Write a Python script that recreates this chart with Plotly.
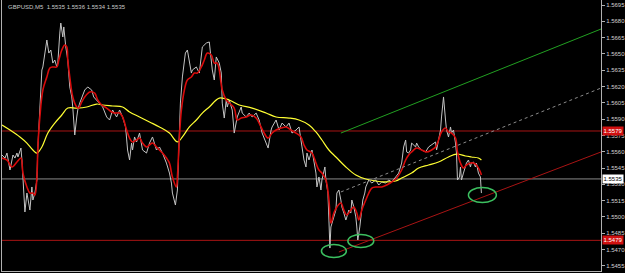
import plotly.graph_objects as go

# ---------------- data (bar index, price) ----------------
close_bar = [2,5,7,10,12,13,15,17,18,21,22,23,25,27,28,30,32,33,35,37,38,40,42,43,45,46,47,49,51,53,55,57,58,60,61,63,64,66,68,70,72,73,75,77,78,80,82,85,88,92,94,97,100,103,107,110,113,117,120,123,126,128,130,132,133,135,137,140,143,147,150,153,157,160,163,167,170,172,173,176,178,179,181,183,184,186,188,190,192,193,197,200,203,207,210,213,215,217,220,222,223,225,227,228,230,233,235,238,242,243,247,250,253,257,260,263,267,269,272,273,277,280,283,287,290,293,297,300,303,305,307,308,310,313,317,318,320,322,323,326,327,329,330,331,332,335,337,338,340,342,343,345,347,348,350,352,353,355,357,358,359,361,363,364,366,367,370,373,377,380,383,387,390,393,397,400,403,405,407,408,410,412,413,417,418,420,423,427,430,433,437,438,440,442,443,445,447,448,450,452,453,455,457,458,459,461,462,463,465,467,468,470,472,473,475,477,478,480,482,483]
close_px = [1.55570,1.55542,1.55588,1.55432,1.55524,1.55570,1.55542,1.55588,1.55552,1.55634,1.55524,1.55312,1.55046,1.55220,1.55156,1.55064,1.55276,1.55156,1.55220,1.55340,1.55644,1.56048,1.56352,1.56380,1.56508,1.56600,1.56628,1.56508,1.56536,1.56416,1.56444,1.56380,1.56416,1.56692,1.56784,1.56656,1.56748,1.56564,1.56444,1.56196,1.56104,1.56012,1.55754,1.55920,1.55984,1.56048,1.56104,1.56168,1.56196,1.56168,1.56104,1.56076,1.56048,1.56012,1.55920,1.55892,1.55984,1.55920,1.55984,1.55920,1.55828,1.55616,1.55524,1.55680,1.55616,1.55736,1.55690,1.55772,1.55616,1.55588,1.55680,1.55736,1.55616,1.55644,1.55588,1.55496,1.55404,1.55312,1.55220,1.55110,1.55248,1.55588,1.56048,1.56288,1.56352,1.56508,1.56536,1.56416,1.56324,1.56352,1.56380,1.56324,1.56564,1.56600,1.56610,1.56352,1.56260,1.56472,1.56416,1.56324,1.56048,1.55910,1.56076,1.56012,1.56076,1.55984,1.55772,1.55920,1.56012,1.55956,1.55920,1.55956,1.55920,1.55956,1.55892,1.55772,1.55680,1.55634,1.55800,1.55828,1.55892,1.55800,1.55864,1.55828,1.55864,1.55772,1.55800,1.55828,1.55644,1.55524,1.55460,1.55588,1.55524,1.55616,1.55404,1.55276,1.55368,1.55248,1.55340,1.55460,1.55340,1.55220,1.54972,1.54714,1.54908,1.55000,1.55064,1.55220,1.55248,1.55156,1.55092,1.55036,1.54972,1.55000,1.55064,1.55036,1.55156,1.55092,1.55000,1.54908,1.54788,1.54908,1.55064,1.55156,1.55220,1.55276,1.55340,1.55312,1.55340,1.55294,1.55322,1.55312,1.55340,1.55322,1.55368,1.55404,1.55496,1.55644,1.55708,1.55598,1.55588,1.55616,1.55680,1.55644,1.55680,1.55644,1.55616,1.55598,1.55644,1.55662,1.55690,1.55616,1.55708,1.55800,1.55920,1.56104,1.55892,1.55800,1.55736,1.55828,1.55772,1.55800,1.55680,1.55588,1.55340,1.55368,1.55460,1.55340,1.55404,1.55460,1.55496,1.55524,1.55460,1.55496,1.55506,1.55460,1.55496,1.55404,1.55368,1.55220]

fast_bar = [2,7,12,17,21,23,27,30,33,35,37,38,40,43,47,50,53,57,59,62,65,67,68,70,73,77,79,82,85,90,95,98,102,107,112,115,120,123,127,130,133,137,140,143,147,150,153,157,160,163,167,170,173,177,178,180,182,185,188,192,195,198,202,205,208,212,215,218,220,223,227,230,235,238,242,247,252,257,260,265,269,273,277,282,287,292,297,302,305,308,313,317,320,323,327,330,332,335,338,342,345,348,352,355,358,360,363,367,370,373,378,383,388,393,398,403,407,410,413,418,423,428,433,437,440,443,447,450,453,457,459,462,465,468,472,475,478,482,483]
fast_ma = [1.55542,1.55524,1.55460,1.55506,1.55542,1.55404,1.55276,1.55220,1.55220,1.55202,1.55368,1.55644,1.55920,1.56168,1.56288,1.56370,1.56380,1.56380,1.56444,1.56536,1.56582,1.56564,1.56444,1.56288,1.56104,1.56012,1.56002,1.56058,1.56104,1.56150,1.56140,1.56076,1.56030,1.56002,1.55966,1.55956,1.55956,1.55920,1.55800,1.55726,1.55690,1.55708,1.55726,1.55680,1.55644,1.55662,1.55680,1.55644,1.55616,1.55588,1.55542,1.55496,1.55368,1.55276,1.55368,1.55736,1.55984,1.56168,1.56260,1.56288,1.56324,1.56324,1.56380,1.56444,1.56508,1.56490,1.56416,1.56416,1.56352,1.56168,1.56076,1.56048,1.56002,1.55892,1.55910,1.55920,1.55938,1.55910,1.55864,1.55772,1.55726,1.55772,1.55800,1.55818,1.55828,1.55800,1.55772,1.55736,1.55662,1.55616,1.55588,1.55496,1.55432,1.55404,1.55340,1.55156,1.54944,1.55036,1.55092,1.55128,1.55064,1.55018,1.55064,1.55092,1.55036,1.54972,1.55064,1.55156,1.55220,1.55266,1.55276,1.55276,1.55294,1.55322,1.55358,1.55432,1.55524,1.55570,1.55598,1.55634,1.55616,1.55598,1.55616,1.55644,1.55708,1.55782,1.55818,1.55782,1.55772,1.55726,1.55598,1.55496,1.55450,1.55478,1.55496,1.55496,1.55478,1.55414,1.55386]

slow_bar = [2,10,20,27,33,37,42,48,55,62,68,77,87,97,103,113,123,130,140,150,160,170,178,183,190,197,203,210,220,230,240,253,267,277,290,300,310,317,323,330,337,347,357,367,377,387,397,403,413,420,430,440,450,458,467,473,480,483]
slow_ma = [1.55846,1.55800,1.55736,1.55680,1.55616,1.55588,1.55644,1.55772,1.55864,1.55938,1.56002,1.56002,1.56012,1.56039,1.56030,1.56021,1.56012,1.55966,1.55920,1.55874,1.55828,1.55772,1.55690,1.55736,1.55828,1.55892,1.55956,1.56012,1.56094,1.56076,1.56030,1.56002,1.55956,1.55920,1.55910,1.55892,1.55846,1.55782,1.55708,1.55616,1.55552,1.55460,1.55386,1.55349,1.55331,1.55322,1.55331,1.55358,1.55404,1.55450,1.55478,1.55506,1.55552,1.55579,1.55561,1.55552,1.55542,1.55524]

# horizontal levels
resist_level = 1.55791
support_level = 1.54785
bid_level = 1.5535

# channel trendlines (bar, price) endpoints
green_bars = [342, 603]
green_prices = [1.55772, 1.56729]
mid_bars = [342, 603]
mid_prices = [1.55230, 1.56186]
red_bars = [340, 603]
red_prices = [1.54678, 1.55598]

# circled lows (bar, price)
circle_bars = [335, 362, 484]
circle_prices = [1.54687, 1.54779, 1.55202]

tick_vals = [1.5455,1.5470,1.5485,1.5500,1.5515,1.5530,1.5545,1.5560,1.5575,1.5590,1.5605,1.5620,1.5635,1.5650,1.5665,1.5680,1.5695]
tick_text = ["1.5455","1.5470","1.5485","1.5500","1.5515","1.5530","1.5545","1.5560","1.5575","1.5590","1.5605","1.5620","1.5635","1.5650","1.5665","1.5680","1.5695"]

title_text = "GBPUSD,M5  1.5535 1.5536 1.5534 1.5535"
resist_label = "1.5579"
support_label = "1.5479"
bid_label = "1.5535"

# ---------------- figure ----------------
FONT = "Liberation Sans"
fig = go.Figure()

fig.add_trace(go.Scatter(x=close_bar, y=close_px, mode="lines",
                         line=dict(color="#c4c4c4", width=1), hoverinfo="skip"))
fig.add_trace(go.Scatter(x=slow_bar, y=slow_ma, mode="lines",
                         line=dict(color="#ffff33", width=1.2, shape="spline"), hoverinfo="skip"))
fig.add_trace(go.Scatter(x=fast_bar, y=fast_ma, mode="lines",
                         line=dict(color="#d80c0c", width=1.6, shape="spline"), hoverinfo="skip"))

fig.add_trace(go.Scatter(x=green_bars, y=green_prices, mode="lines",
                         line=dict(color="#22a022", width=1), hoverinfo="skip"))
fig.add_trace(go.Scatter(x=mid_bars, y=mid_prices, mode="lines",
                         line=dict(color="#8c8c8c", width=1, dash="dot"), hoverinfo="skip"))
fig.add_trace(go.Scatter(x=red_bars, y=red_prices, mode="lines",
                         line=dict(color="#a81414", width=1), hoverinfo="skip"))

shapes = []
for lvl, col in [(resist_level, "#a81414"), (support_level, "#a81414"), (bid_level, "#8a8a8a")]:
    shapes.append(dict(type="line", xref="paper", x0=0, x1=1, yref="y", y0=lvl, y1=lvl,
                       line=dict(color=col, width=1), layer="below"))

half_w = [12.5, 13, 14]
half_h = [0.00060, 0.00060, 0.00069]
for b, p, hw, hh in zip(circle_bars, circle_prices, half_w, half_h):
    shapes.append(dict(type="circle", xref="x", yref="y", x0=b - hw, x1=b + hw,
                       y0=p - hh, y1=p + hh, line=dict(color="#3cc060", width=1.5)))

annotations = [
    dict(xref="paper", yref="paper", x=0, y=1, xanchor="left", yanchor="top",
         text=title_text, showarrow=False, xshift=4, yshift=-2,
         font=dict(family=FONT, size=6, color="#c8c8c8")),
]
for lvl, txt, bg, fg in [(resist_level, resist_label, "#d01010", "#ffffff"),
                         (support_level, support_label, "#d01010", "#ffffff"),
                         (bid_level, bid_label, "#ffffff", "#000000")]:
    annotations.append(dict(xref="paper", yref="y", x=1, y=lvl, xanchor="left", yanchor="middle",
                            text=txt, showarrow=False, bgcolor=bg, borderpad=0, width=20, height=8,
                            xshift=1, font=dict(family=FONT, size=6, color=fg)))

fig.update_layout(
    width=625, height=273,
    margin=dict(l=2, r=22, t=0, b=2),
    paper_bgcolor="#000000", plot_bgcolor="#000000",
    showlegend=False,
    shapes=shapes, annotations=annotations,
    xaxis=dict(range=[2, 603], showgrid=False, zeroline=False, showticklabels=False,
               showline=True, linecolor="#b0b0b0", linewidth=1, ticks=""),
    yaxis=dict(range=[1.54503, 1.56996], side="right", showgrid=False, zeroline=False,
               tickvals=tick_vals, ticktext=tick_text, ticks="outside", ticklen=3,
               tickcolor="#b0b0b0", showline=True, mirror=True, linecolor="#b0b0b0",
               linewidth=1, tickfont=dict(family=FONT, size=6, color="#d0d0d0")),
)

fig.write_html("out.html")
